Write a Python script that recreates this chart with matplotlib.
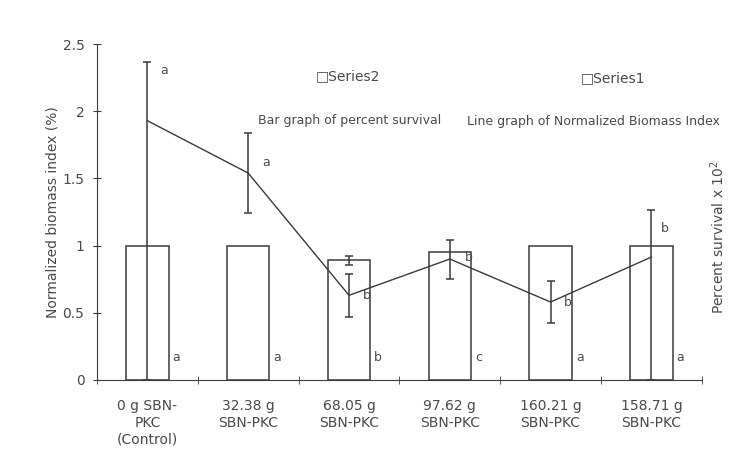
import numpy as np
import matplotlib.pyplot as plt

# data
categories = ['0 g SBN-\nPKC\n(Control)', '32.38 g\nSBN-PKC', '68.05 g\nSBN-PKC',
              '97.62 g\nSBN-PKC', '160.21 g\nSBN-PKC', '158.71 g\nSBN-PKC']
survival = [1.0, 1.0, 0.89, 0.95, 1.0, 1.0]          # Series2 (bars)
survival_err = [0, 0, 0.035, 0, 0, 0]
bar_letters = ['a', 'a', 'b', 'c', 'a', 'a']

biomass = [1.93, 1.54, 0.63, 0.90, 0.58, 0.915]       # Series1 (line)
biomass_err_lo = [1.93, 0.30, 0.16, 0.145, 0.155, 0.915]
biomass_err_hi = [0.44, 0.30, 0.16, 0.145, 0.155, 0.35]
line_letters = ['a', 'a', 'b', 'b', 'b', 'b']

ink = '#3a3a3a'
txt = '#4a4a4a'

fig = plt.figure(figsize=(7.49, 4.55), dpi=100)
ax = fig.add_axes([0.1295, 0.165, 0.8075, 0.738])

x = np.arange(len(categories))
ax.bar(x, survival, width=0.42, color='white', edgecolor=ink, linewidth=1.1, zorder=2)
# only the bars that carry an error bar on the scan
err_idx = [i for i, e in enumerate(survival_err) if e > 0]
ax.errorbar(x[err_idx], np.array(survival)[err_idx], yerr=np.array(survival_err)[err_idx],
            fmt='none', ecolor=ink, elinewidth=1.1, capsize=3, capthick=1.1, zorder=3)

ax.plot(x, biomass, color=ink, linewidth=1.0, zorder=4)
ax.errorbar(x, biomass, yerr=[biomass_err_lo, biomass_err_hi], fmt='none', ecolor=ink,
            elinewidth=1.1, capsize=3, capthick=1.1, zorder=4)

# significance letters
line_pos = [(0.13, 2.30), (0.14, 1.62), (0.14, 0.63), (0.15, 0.91), (0.13, 0.58), (0.09, 1.13)]
for i, (dx, yy) in enumerate(line_pos):
    ax.text(i + dx, yy, line_letters[i], color=txt, fontsize=9, va='center', ha='left')
for i, l in enumerate(bar_letters):
    ax.text(i + 0.25, 0.17, l, color=txt, fontsize=9, va='center', ha='left')

ax.set_xlim(-0.5, 5.5)
ax.set_ylim(0, 2.5)
ax.set_yticks([0, 0.5, 1, 1.5, 2, 2.5])
ax.set_yticklabels(['0', '0.5', '1', '1.5', '2', '2.5'])
ax.set_xticks(x)
ax.set_xticklabels(categories, fontsize=10, color=txt, linespacing=1.25)
ax.set_xticks(np.arange(-0.5, 6.0, 1.0), minor=True)
ax.tick_params(axis='x', which='major', length=0, pad=14)
ax.tick_params(axis='x', which='minor', length=6, direction='inout', color=ink)
ax.tick_params(axis='y', length=6, direction='inout', color=ink, labelcolor=txt, labelsize=10, pad=6)

for s in ['top', 'right']:
    ax.spines[s].set_visible(False)
ax.spines['left'].set_color(ink)
ax.spines['bottom'].set_color(ink)

ax.set_ylabel('Normalized biomass index (%)', color=txt, fontsize=10, labelpad=2)
fig.text(0.958, 0.48, 'Percent survival x 10$^2$', rotation=90, color=txt,
         fontsize=10, ha='center', va='center')

# legend-like labels as on the scan
fig.text(0.421, 0.833, '\u25a1Series2', color=txt, fontsize=10, va='center')
fig.text(0.775, 0.829, '\u25a1Series1', color=txt, fontsize=10, va='center')
fig.text(0.345, 0.736, 'Bar graph of percent survival', color=txt, fontsize=9, va='center')
fig.text(0.623, 0.732, 'Line graph of Normalized Biomass Index', color=txt, fontsize=9, va='center')

fig.savefig('out.png', dpi=100)
